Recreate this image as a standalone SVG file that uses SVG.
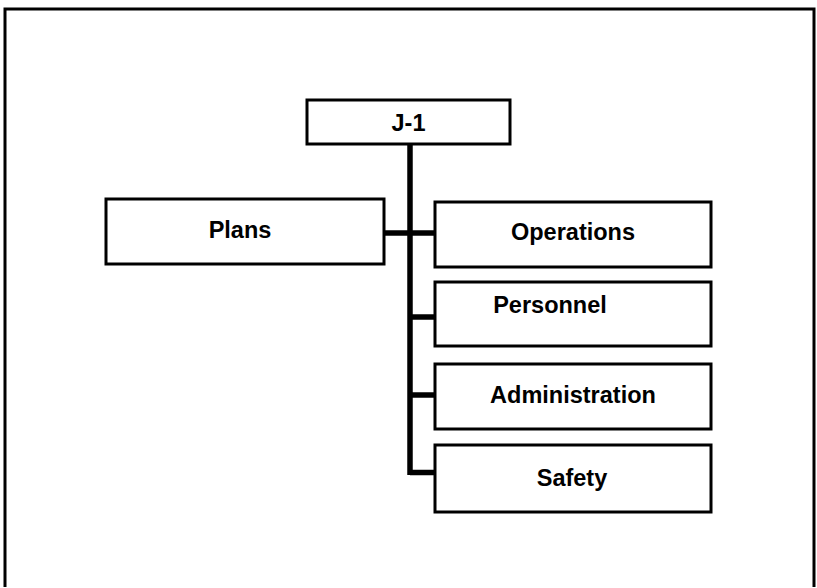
<svg xmlns="http://www.w3.org/2000/svg" width="817" height="588" viewBox="0 0 817 588">
<style>
.box{fill:#fff;stroke:#000;stroke-width:3}
.lbl{font-family:"Liberation Sans",Arial,sans-serif;font-weight:bold;font-size:23.5px;fill:#000;text-anchor:middle}
.con{stroke:#000;stroke-width:5.5;fill:none}
</style>
<rect x="0" y="0" width="817" height="588" fill="#fff"/>
<path d="M5,587 V9 H814 V587" fill="none" stroke="#000" stroke-width="3"/>
<g id="connectors">
<path class="con" d="M410,144 V475"/>
<path class="con" d="M384,233 H435"/>
<path class="con" d="M410,317 H435"/>
<path class="con" d="M410,395 H435"/>
<path class="con" d="M410,472.5 H435"/>
</g>
<g id="j1"><rect class="box" x="307" y="100" width="203" height="44"/><text class="lbl" x="408.5" y="131">J-1</text></g>
<g id="plans"><rect class="box" x="106" y="199" width="278" height="65"/><text class="lbl" x="240" y="238">Plans</text></g>
<g id="operations"><rect class="box" x="435" y="202" width="276" height="65"/><text class="lbl" x="573" y="240">Operations</text></g>
<g id="personnel"><rect class="box" x="435" y="282" width="276" height="64"/><text class="lbl" x="550" y="313">Personnel</text></g>
<g id="administration"><rect class="box" x="435" y="364" width="276" height="65"/><text class="lbl" x="573" y="403">Administration</text></g>
<g id="safety"><rect class="box" x="435" y="445" width="276" height="67"/><text class="lbl" x="572" y="486">Safety</text></g>
</svg>
